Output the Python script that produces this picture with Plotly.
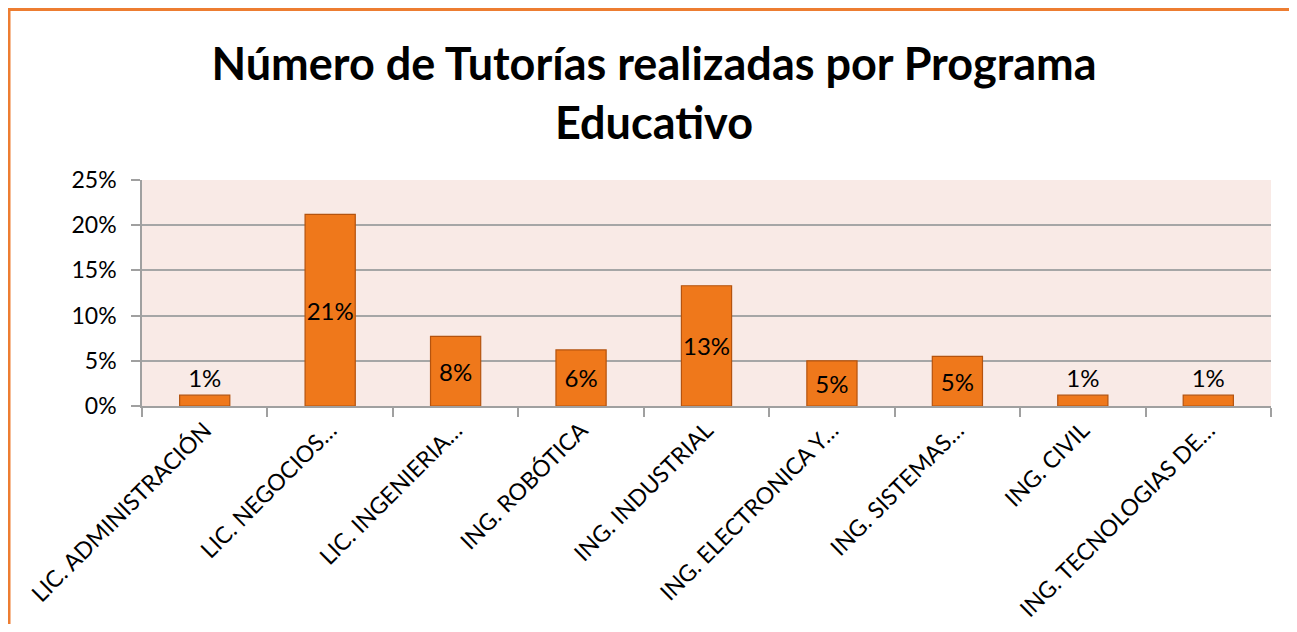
import plotly.graph_objects as go

categories = [
    "LIC. ADMINISTRACIÓN",
    "LIC. NEGOCIOS…",
    "LIC. INGENIERIA…",
    "ING. ROBÓTICA",
    "ING. INDUSTRIAL",
    "ING. ELECTRONICA Y…",
    "ING. SISTEMAS…",
    "ING. CIVIL",
    "ING. TECNOLOGIAS DE…",
]
values = [0.012, 0.212, 0.077, 0.062, 0.133, 0.050, 0.055, 0.012, 0.012]
labels = ["1%", "21%", "8%", "6%", "13%", "5%", "5%", "1%", "1%"]
label_pos = ["outside", "inside", "inside", "inside", "inside", "inside", "inside", "outside", "outside"]
y_ticks = [0, 0.05, 0.10, 0.15, 0.20, 0.25]
y_tick_text = ["0%", "5%", "10%", "15%", "20%", "25%"]

# figure sits at an 8px page offset
W, H = 1281, 616
L, R, T, B = 134, 18, 172, 218

fig = go.Figure(
    go.Bar(
        x=categories,
        y=values,
        text=labels,
        textposition=label_pos,
        textangle=0,
        insidetextanchor="middle",
        constraintext="none",
        textfont=dict(family="Lato", size=24, color="#000000"),
        cliponaxis=False,
        width=0.4,
        marker=dict(color="#EF781B", line=dict(color="#B4530F", width=1.2)),
    )
)

pw = W - L - R
ph = H - T - B
bx0 = (1 - L) / pw
by1 = 1 + (T - 1.5) / ph
fig.add_shape(
    type="rect", xref="paper", yref="paper",
    x0=bx0, x1=(W + 40 - L) / pw, y0=-(B + 40) / ph, y1=by1,
    line=dict(color="#ED7D31", width=3), fillcolor="rgba(0,0,0,0)", layer="below",
)

fig.update_layout(
    width=W, height=H,
    margin=dict(l=L, r=R, t=T, b=B, autoexpand=False),
    paper_bgcolor="#FFFFFF",
    plot_bgcolor="#F9EAE6",
    showlegend=False,
    bargap=0.6,
    title=dict(
        text="Número de Tutorías realizadas por Programa<br>Educativo",
        x=646 / W, xanchor="center", xref="container",
        y=1 - 72 / H, yanchor="top", yref="container",
        font=dict(family="Lato", size=45, color="#000000", weight="bold"),
    ),
    font=dict(family="Lato", color="#000000"),
)
fig.update_xaxes(
    type="category",
    automargin=False,
    tickangle=-45,
    tickfont=dict(family="Lato", size=23, color="#000000"),
    showgrid=False,
    showline=True, linecolor="#A0A0A0", linewidth=1.5,
    ticks="outside", tickson="boundaries", ticklen=9, tickcolor="#A0A0A0", tickwidth=1.5,
)
fig.update_yaxes(
    automargin=False,
    range=[0, 0.25],
    tickvals=y_ticks, ticktext=y_tick_text,
    tickfont=dict(family="Lato", size=23, color="#000000"),
    ticklabelstandoff=10,
    showgrid=True, gridcolor="#A6A6A6", gridwidth=1.5,
    showline=True, linecolor="#A0A0A0", linewidth=1.5,
    ticks="outside", ticklen=9, tickcolor="#A0A0A0", tickwidth=1.5,
    zeroline=False,
)

fig.write_html("out.html")
